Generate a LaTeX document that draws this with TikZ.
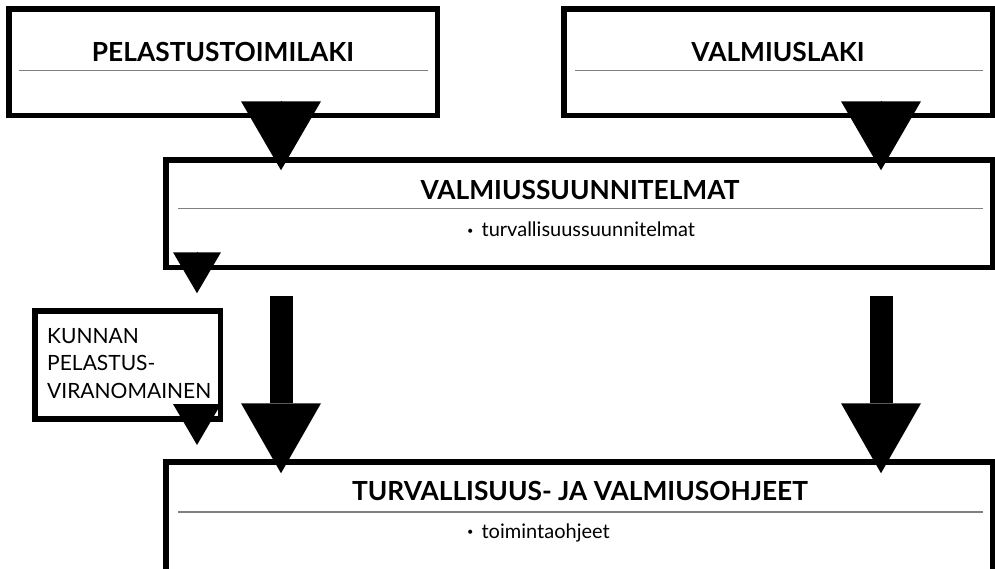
\documentclass[tikz,border=0pt]{standalone}
\usepackage{fontspec}
\setmainfont{Lato}
\usetikzlibrary{arrows.meta}
\tikzstyle{laatikko} = [rectangle, draw=black, line width=5.5pt, inner sep=0pt]
\tikzstyle{otsikko} = [anchor=base, inner sep=0pt, font=\bfseries\fontsize{26.3}{30}\selectfont]
\tikzstyle{kohta} = [anchor=base west, inner sep=0pt, font=\fontsize{20}{24}\selectfont]
\tikzstyle{viiva} = [draw=black!50, line width=1.5pt]
\tikzstyle{nuoli} = [line width=23pt, -{Triangle[length=70pt, width=80pt, line width=0pt]}]
\tikzstyle{kolmio} = [line width=0.1pt, -{Triangle[length=69pt, width=80pt, line width=0pt]}]
\tikzstyle{pikku} = [line width=0.1pt, -{Triangle[length=41pt, width=48pt, line width=0pt]}]
\newcommand{\pallo}{\raisebox{2.5pt}{\fontsize{11}{11}\selectfont\textbullet}}

\begin{document}
\begin{tikzpicture}[x=1pt,y=-1pt]
						\clip (0,0) rectangle (995,568);
						\useasboundingbox (0,0) rectangle (995,568);
						\coordinate (vasen) at (281,0);
						\coordinate (oikea) at (881,0);
						\coordinate (reuna) at (197,0);
						\node (pel) at (223,62) [laatikko, minimum width=428.5pt, minimum height=106.5pt] {};
						\node (val) at (778,62) [laatikko, minimum width=428.5pt, minimum height=106.5pt] {};
						\node (vss) at (579,213.5) [laatikko, minimum width=826.5pt, minimum height=107.5pt] {};
						\node (kun) at (127.5,365) [laatikko, minimum width=185.5pt, minimum height=108pt] {};
						\node (ohj) at (579,518) [laatikko, minimum width=826.5pt, minimum height=112.5pt] {};
						\node (pelotsikko) at (223,61.7) [otsikko] {PELASTUSTOIMILAKI};
						\node (valotsikko) at (778,61) [otsikko] {VALMIUSLAKI};
						\node (vssotsikko) at (580,199) [otsikko] {VALMIUSSUUNNITELMAT};
						\node (ohjotsikko) at (580,500.7) [otsikko] {TURVALLISUUS- JA VALMIUSOHJEET};
						\draw[viiva] (19,70.7) -- (428,70.7);
						\draw[viiva] (575,70.7) -- (983,70.7);
						\draw[viiva] (178,208.5) -- (983,208.5);
						\draw[viiva] (178,512) -- (983,512);
						\node (vsskohta) at (467,236.7) [kohta] {\pallo\hspace{8pt}turvallisuussuunnitelmat};
						\node (ohjkohta) at (467,538) [kohta] {\pallo\hspace{8pt}toimintaohjeet};
						\node (kunteksti) at (47,398.3) [kohta, align=left, font=\fontsize{21}{27.5}\selectfont] {KUNNAN\\PELASTUS-\\VIRANOMAINEN};
						\draw[kolmio] ([yshift=11.25pt]pel.south -| vasen) -- ([yshift=-13.25pt]vss.north -| vasen);
						\draw[kolmio] ([yshift=11.25pt]val.south -| oikea) -- ([yshift=-13.25pt]vss.north -| oikea);
						\draw[pikku] ([yshift=11.25pt]vss.south -| reuna) -- ([yshift=15pt]kun.north -| reuna);
						\draw[pikku] ([yshift=13pt]kun.south -| reuna) -- ([yshift=14pt]ohj.north -| reuna);
						\draw[nuoli] ([yshift=-25.75pt]vss.south -| vasen) -- ([yshift=-14.25pt]ohj.north -| vasen);
						\draw[nuoli] ([yshift=-25.75pt]vss.south -| oikea) -- ([yshift=-14.25pt]ohj.north -| oikea);
					\end{tikzpicture}
\end{document}
